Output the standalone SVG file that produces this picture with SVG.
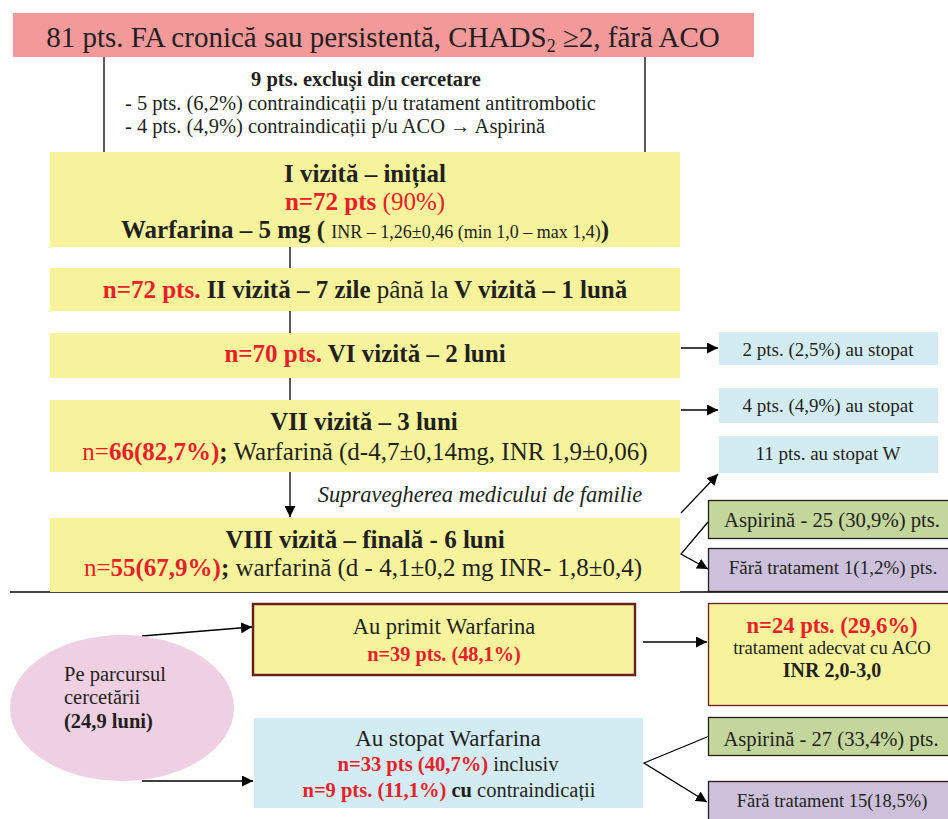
<svg xmlns="http://www.w3.org/2000/svg" width="948" height="819" viewBox="0 0 948 819" font-family="'Liberation Serif', 'Times New Roman', serif">
<style>
text, tspan { font-family: 'Liberation Serif', 'Times New Roman', serif; fill: #231f20; }
.b{font-weight:bold}
.r{fill:#e8202a}
.c{text-anchor:middle}
.yel{fill:#f7f39d}
.blu{fill:#d3ecf3}
.ln{stroke:#000;stroke-width:1.3;fill:none}
</style>
<defs>
<marker id="ah" viewBox="0 0 10 10" refX="10" refY="5" markerWidth="11" markerHeight="11" markerUnits="userSpaceOnUse" orient="auto"><path d="M0,0L10,5L0,10z" fill="#000"/></marker>
</defs>

<g id="connectors">
<line class="ln" x1="104" y1="57" x2="104" y2="152"/>
<line class="ln" x1="645" y1="57" x2="645" y2="152"/>
<line class="ln" x1="290" y1="247" x2="290" y2="268"/>
<line class="ln" x1="290" y1="311" x2="290" y2="333"/>
<line class="ln" x1="290" y1="378" x2="290" y2="400"/>
<line class="ln" x1="290" y1="472" x2="290" y2="517" marker-end="url(#ah)"/>
<line class="ln" x1="681" y1="348" x2="718" y2="348" marker-end="url(#ah)"/>
<line class="ln" x1="681" y1="410" x2="718" y2="410" marker-end="url(#ah)"/>
<line class="ln" x1="681" y1="513" x2="718" y2="474" marker-end="url(#ah)"/>
<polyline class="ln" points="708,522 681,554 708,569" marker-start="url(#ah)" marker-end="url(#ah)"/>
<line class="ln" x1="10" y1="592" x2="948" y2="592"/>
<line class="ln" x1="142" y1="636" x2="252" y2="627" marker-end="url(#ah)"/>
<line class="ln" x1="142" y1="781" x2="253" y2="781" marker-end="url(#ah)"/>
<line class="ln" x1="643" y1="642" x2="707" y2="642" marker-end="url(#ah)"/>
<polyline class="ln" points="707,737 644,763 707,802" marker-start="url(#ah)" marker-end="url(#ah)"/>
</g>

<g id="title">
<rect x="13" y="13" width="741" height="44" fill="#f4999a"/>
<text x="383" y="47" class="c" font-size="29">81 pts. FA cronică sau persistentă, CHADS<tspan font-size="18" dy="5">2</tspan><tspan dy="-5"> ≥2, fără ACO</tspan></text>
</g>

<g id="excluded">
<text x="366" y="86" class="c b" font-size="20.5">9 pts. excluşi din cercetare</text>
<text x="125" y="110" font-size="20.5">- 5 pts. (6,2%) contraindicații p/u tratament antitrombotic</text>
<text x="125" y="133" font-size="20.5">- 4 pts. (4,9%) contraindicații p/u ACO → Aspirină</text>
</g>

<g id="visit1">
<rect x="50" y="152" width="630" height="95" class="yel"/>
<text x="365" y="182" class="c b" font-size="25">I vizită – inițial</text>
<text x="365" y="210" class="c r" font-size="25"><tspan class="b r">n=72 pts</tspan> (90%)</text>
<text x="365" y="238" class="c b" font-size="25">Warfarina – 5 mg ( <tspan font-weight="normal" font-size="18">INR – 1,26±0,46 (min 1,0 – max 1,4)</tspan>)</text>
</g>

<g id="visit2">
<rect x="50" y="268" width="630" height="43" class="yel"/>
<text x="365" y="298" class="c b" font-size="25"><tspan class="r">n=72 pts.</tspan>  II vizită – 7 zile <tspan font-weight="normal">până la</tspan> V vizită – 1 lună</text>
</g>

<g id="visit6">
<rect x="50" y="333" width="630" height="45" class="yel"/>
<text x="365" y="362" class="c b" font-size="25"><tspan class="r">n=70 pts.</tspan>  VI vizită – 2 luni</text>
</g>

<g id="visit7">
<rect x="50" y="400" width="630" height="72" class="yel"/>
<text x="364" y="430" class="c b" font-size="25">VII vizită – 3 luni</text>
<text x="365" y="460" class="c" font-size="25"><tspan class="r">n=</tspan><tspan class="r b">66(82,7%)</tspan><tspan class="b">;</tspan> Warfarină (d-4,7±0,14mg, INR 1,9±0,06)</text>
</g>

<text x="480" y="502" class="c" font-size="22.5" font-style="italic">Supravegherea medicului de familie</text>

<g id="visit8">
<rect x="50" y="518" width="630" height="74" class="yel"/>
<text x="365" y="548" class="c b" font-size="25">VIII vizită – finală - 6 luni</text>
<text x="363" y="576" class="c" font-size="25"><tspan class="r">n=</tspan><tspan class="r b">55(67,9%)</tspan><tspan class="b">;</tspan> warfarină (d - 4,1±0,2 mg INR- 1,8±0,4)</text>
</g>

<g id="stop2">
<rect x="719" y="332" width="219" height="33" class="blu"/>
<text x="828" y="356" class="c" font-size="19">2 pts. (2,5%) au stopat</text>
</g>
<g id="stop4">
<rect x="719" y="388" width="219" height="35" class="blu"/>
<text x="828" y="412" class="c" font-size="19">4 pts. (4,9%) au stopat</text>
</g>
<g id="stop11">
<rect x="719" y="436" width="219" height="37" class="blu"/>
<text x="828" y="460" class="c" font-size="19">11 pts. au stopat W</text>
</g>
<g id="asp25">
<rect x="708.5" y="500.5" width="245" height="38" fill="#c3d69b" stroke="#231f20" stroke-width="1.3"/>
<text x="832" y="527" class="c" font-size="20.7">Aspirină - 25 (30,9%) pts.</text>
</g>
<g id="nontreat1">
<rect x="708.5" y="548.5" width="245" height="43" fill="#ccc0da" stroke="#231f20" stroke-width="1.3"/>
<text x="833" y="574" class="c" font-size="19">Fără tratament 1(1,2%) pts.</text>
</g>

<g id="period">
<ellipse cx="122" cy="708" rx="112" ry="73" fill="#efd0e2"/>
<text x="64" y="681" font-size="20.5">Pe parcursul</text>
<text x="64" y="704" font-size="20.5">cercetării</text>
<text x="64" y="728" class="b" font-size="20.5">(24,9 luni)</text>
</g>

<g id="received">
<rect x="253" y="604" width="382" height="71" class="yel" stroke="#6b2020" stroke-width="2.5"/>
<text x="444" y="634" class="c" font-size="22.5">Au primit Warfarina</text>
<text x="444" y="661" class="c b r" font-size="20.3">n=39 pts. (48,1%)</text>
</g>

<g id="adequate">
<rect x="708.5" y="603.5" width="245" height="102" class="yel" stroke="#6b2020" stroke-width="1.3"/>
<text x="832" y="633" class="c b r" font-size="22.6">n=24 pts. (29,6%)</text>
<text x="832" y="654" class="c" font-size="18.7">tratament adecvat cu ACO</text>
<text x="832" y="677" class="c b" font-size="20">INR 2,0-3,0</text>
</g>

<g id="stopped">
<rect x="254" y="718" width="389" height="90" class="blu"/>
<text x="448" y="746" class="c" font-size="23">Au stopat Warfarina</text>
<text x="448" y="771" class="c" font-size="20.6"><tspan class="b r">n=33 pts (40,7%)</tspan> inclusiv</text>
<text x="449" y="797" class="c" font-size="20.5"><tspan class="b r">n=9 pts. (11,1%)</tspan> <tspan class="b">cu</tspan> contraindicații</text>
</g>

<g id="asp27">
<rect x="708.5" y="717.5" width="245" height="38" fill="#c3d69b" stroke="#231f20" stroke-width="1.3"/>
<text x="831" y="746" class="c" font-size="20.6">Aspirină - 27 (33,4%) pts.</text>
</g>
<g id="nontreat15">
<rect x="708.5" y="781.5" width="245" height="45" fill="#ccc0da" stroke="#231f20" stroke-width="1.3"/>
<text x="832" y="807" class="c" font-size="18.5">Fără tratament 15(18,5%)</text>
</g>
</svg>
